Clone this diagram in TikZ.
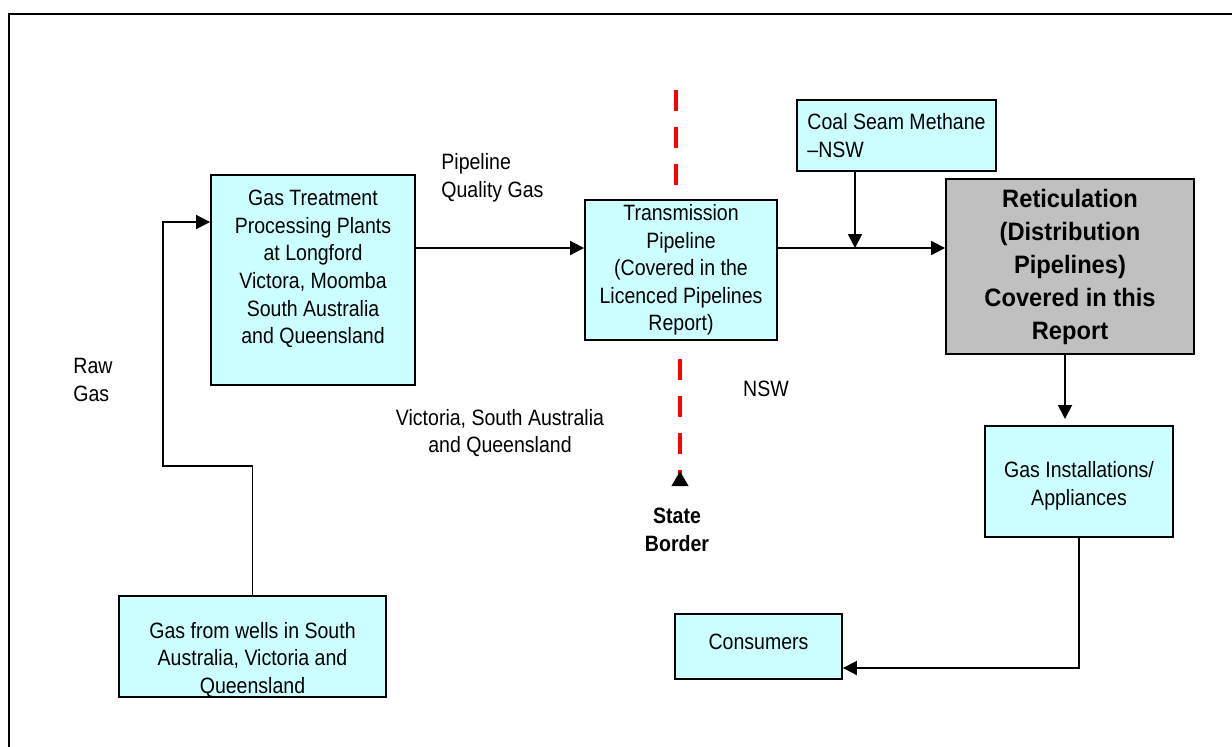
\documentclass[tikz,border=0pt]{standalone}
\usepackage{fontspec}
\setmainfont{Liberation Sans}[FakeStretch=0.88]
\newfontfamily\reticfont{Liberation Sans}[FakeStretch=0.94]
\usetikzlibrary{
    positioning,
    arrows.meta
}
\definecolor{boxcyan}{HTML}{CCFFFF}
\definecolor{boxgrey}{HTML}{C0C0C0}

\begin{document}
\begin{tikzpicture}[
    x=0.5pt, y=-0.5pt,
    % Box styles
    gas_box/.style={rectangle, draw=black, line width=0.9pt, fill=boxcyan, inner sep=0pt, align=center, font=\fontsize{11.1}{13.8}\selectfont},
    report_box/.style={rectangle, draw=black, line width=0.9pt, fill=boxgrey, inner sep=0pt, align=center, font=\reticfont\fontsize{12.6}{16.5}\selectfont\bfseries},
    box_text/.style={inner sep=0pt, align=center, font=\fontsize{11.1}{13.8}\selectfont},
    plain_text/.style={inner sep=0pt, font=\fontsize{11.1}{13.8}\selectfont},
    % Line styles
    arrow/.style={-{Triangle[length=7pt, width=7pt]}, line width=0.9pt, draw=black},
    border_line/.style={draw=red, line width=2pt, dash pattern=on 10.5pt off 8pt}
]
\useasboundingbox (0,0) rectangle (1232,746);
\draw[line width=1pt] (9,14) rectangle (1260,780);

% --- Sources and treatment ---
\node[gas_box, minimum width=102pt, minimum height=105pt] (treat) at (313,280) {};
\node[box_text] (treat_txt) at ([yshift=5.5pt]treat.center) {Gas Treatment\\Processing Plants\\at Longford\\Victora, Moomba\\South Australia\\and Queensland};
\node[gas_box, minimum width=133.5pt, minimum height=50.5pt] (wells) at (252.5,646.5) {};
\node[box_text] (wells_txt) at ([yshift=-6.75pt]wells.center) {Gas from wells in South\\Australia, Victoria and\\Queensland};

% --- Transmission and distribution ---
\node[gas_box, minimum width=96pt, minimum height=70pt] (trans) at (681,270) {Transmission\\Pipeline\\(Covered in the\\Licenced Pipelines\\Report)};
\node[gas_box, minimum width=99.5pt, minimum height=35.5pt, align=left] (coal) at (896.5,135.5) {Coal Seam Methane\\–NSW};
\node[report_box, minimum width=124pt, minimum height=87.5pt] (retic) at (1070,266.5) {Reticulation\\(Distribution\\Pipelines)\\Covered in this\\Report};
\node[gas_box, minimum width=94pt, minimum height=55.5pt] (inst) at (1079,481.5) {};
\node[box_text] (inst_txt) at ([yshift=-2pt]inst.center) {Gas Installations/\\Appliances};
\node[gas_box, minimum width=83.5pt, minimum height=32.5pt] (cons) at (758.5,646.5) {};
\node[box_text] (cons_txt) at ([yshift=2.5pt]cons.center) {Consumers};

% --- Free labels ---
\node[plain_text, align=left, anchor=west] (quality) at (441,178) {Pipeline\\Quality Gas};
\node[plain_text, align=left, anchor=west] (raw) at (73,380) {Raw\\Gas};
\node[plain_text, align=center] (vic) at (500,433) {Victoria, South Australia\\and Queensland};
\node[plain_text] (nsw) at (766,389) {NSW};

% --- State border ---
\coordinate (border_top) at (676,90);
\coordinate (border_mid) at (676,186);
\coordinate (border_low) at (680,359);
\coordinate (border_end) at (680,486);
\draw[border_line] (border_top) -- (border_mid);
\draw[border_line, -{Triangle[reversed, black, length=7.5pt, width=8pt]}] (border_low) -- (border_end);
\node[plain_text, align=center, font=\fontsize{11.1}{13.8}\selectfont\bfseries] (state) at (677,530) {State\\Border};

% --- Gas flow ---
\coordinate (raw_turn) at (163,466);
\coordinate (feed) at (163,222);
\coordinate (join) at (855,248);
\coordinate (inst_in) at (1065,419);
\draw[arrow] (wells.north) |- (raw_turn) -- (feed) -- (treat.west |- feed);
\draw[arrow] (treat.east |- join) -- (trans.west |- join);
\draw[arrow] (trans.east |- join) -- (retic.west |- join);
\draw[arrow] (coal.south -| join) -- (join);
\draw[arrow] (retic.south -| inst_in) -- (inst_in);
\draw[arrow] (inst.south) |- ([yshift=-10.75pt]cons.east);

\end{tikzpicture}
\end{document}
